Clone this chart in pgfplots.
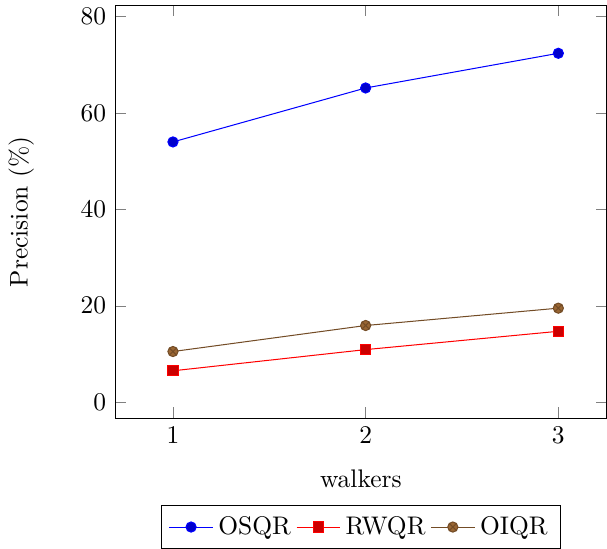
\documentclass[border=0pt]{standalone}
\usepackage{pgfplots}
\pgfplotsset{compat=1.18}
\begin{document}
\begin{tikzpicture}
\begin{axis}[
  scale only axis,
  width=193pt, height=162pt,
  xmin=0.7, xmax=3.25,
  ymin=-3.3, ymax=82.3,
  xtick={1,2,3},
  ytick={0,20,40,60,80},
  xlabel={walkers},
  ylabel={Precision (\%)},
  xlabel style={yshift=-3.5pt},
  ylabel style={yshift=11.5pt},
  legend columns=3,
  legend style={at={(0.5,-0.212)}, anchor=north},
]
\addplot coordinates {(1,54.0) (2,65.2) (3,72.4)};
\addlegendentry{OSQR}
\addplot coordinates {(1,6.5) (2,10.9) (3,14.7)};
\addlegendentry{RWQR}
\addplot coordinates {(1,10.5) (2,15.9) (3,19.5)};
\addlegendentry{OIQR}
\end{axis}
\end{tikzpicture}
\end{document}
